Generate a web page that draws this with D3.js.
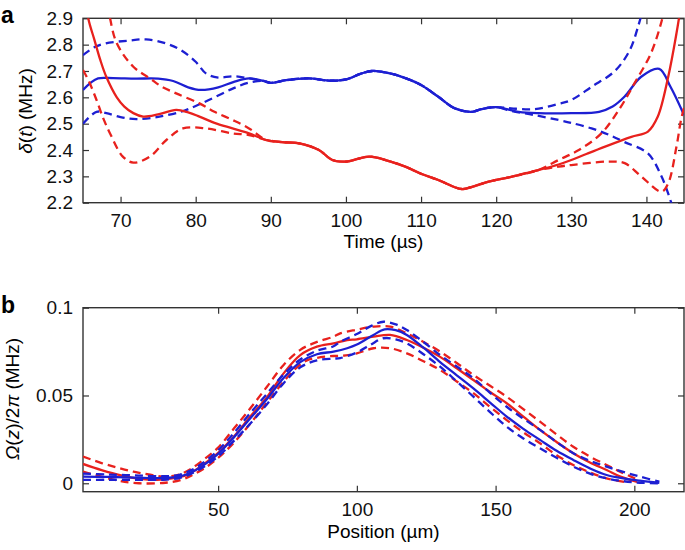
<!DOCTYPE html>
<html>
<head>
<meta charset="utf-8">
<script src="https://cdn.jsdelivr.net/npm/d3@7"></script>
<style>
body { margin: 0; background: #fff; }
svg { display: block; font-family: "Liberation Sans", Arial, Helvetica, sans-serif; }
.tick text { font-family: "Liberation Sans", Arial, Helvetica, sans-serif; font-size: 19px; fill: #111; }
.tick line { stroke: #333; stroke-width: 1.2; }
</style>
</head>
<body>
<svg width="685" height="550"></svg>
<script>
// panel a : detuning vs time
var blueMidA = [[89, 2.662], [90, 2.655], [92, 2.665], [95, 2.672], [98, 2.663], [100, 2.668], [102, 2.69], [103.5, 2.70], [106, 2.69], [108, 2.672], [110, 2.647], [112.3, 2.602], [114.5, 2.558], [116.8, 2.545], [118, 2.555], [120, 2.563]];
var blueSolidA = [[65, 2.628], [66, 2.655], [67, 2.672], [69, 2.673], [72, 2.671], [75, 2.671], [77, 2.662], [79, 2.638], [80.7, 2.628], [83, 2.638], [85, 2.658], [87.1, 2.672]]
    .concat(blueMidA, [[123, 2.545], [125.6, 2.54], [130, 2.54], [133.7, 2.545], [135.5, 2.565], [137.1, 2.603], [139.3, 2.678], [141.7, 2.708], [143.2, 2.64], [145, 2.533]]);
var blueUpperA = [[65, 2.76], [66.5, 2.79], [68, 2.805], [71, 2.815], [73.4, 2.82], [76, 2.805], [78, 2.78], [80, 2.735], [81.4, 2.69], [83, 2.675], [85, 2.68], [87.1, 2.672]]
    .concat(blueMidA, [[122, 2.558], [125, 2.555], [128.3, 2.575], [130, 2.59], [132.7, 2.64], [135.8, 2.70], [137.8, 2.78], [138.9, 2.87], [139.5, 2.93]]);
var blueLowerA = [[65, 2.50], [66.8, 2.545], [68.1, 2.54], [70, 2.525], [72.1, 2.517], [75, 2.526], [78, 2.545], [80, 2.567], [82.5, 2.60], [85, 2.634], [87, 2.655]]
    .concat(blueMidA, [[122, 2.548], [125, 2.533], [128.3, 2.514], [130, 2.503], [132.7, 2.482], [135, 2.458], [137.1, 2.43], [140.2, 2.387], [142, 2.30], [143.3, 2.20], [143.8, 2.15]]);

var redMidA = [[89.4, 2.438], [91.5, 2.43], [93.8, 2.425], [96.4, 2.40], [98.2, 2.362], [100, 2.356], [103.1, 2.375], [105.5, 2.36], [107.9, 2.337], [110, 2.31], [112.3, 2.286], [115.4, 2.252], [117, 2.262], [119, 2.28], [122.1, 2.299], [125.6, 2.324]];
var redSolidA = [[65.3, 3.0], [65.7, 2.9], [66.5, 2.82], [67.3, 2.742], [68.1, 2.678], [69.5, 2.60], [70.5, 2.565], [71.7, 2.54], [73, 2.527], [75, 2.535], [77.4, 2.552], [79, 2.543], [80.5, 2.527], [82.5, 2.503], [84.9, 2.482], [87.1, 2.463]]
    .concat(redMidA, [[128.3, 2.345], [130, 2.362], [132, 2.385], [134.5, 2.413], [138, 2.45], [140.2, 2.47], [141.5, 2.526], [142.9, 2.678], [144, 2.843], [144.6, 2.95]]);
var redUpperA = [[68.3, 2.95], [68.6, 2.9], [69.5, 2.805], [71.7, 2.716], [73.9, 2.672], [75.5, 2.64], [77.4, 2.615], [80.5, 2.577], [82.5, 2.545], [84.9, 2.514], [87.1, 2.482]]
    .concat(redMidA, [[128.3, 2.362], [131, 2.40], [134, 2.463], [136.5, 2.56], [138.4, 2.653], [140.6, 2.767], [142, 2.887], [142.5, 2.95]]);
var redLowerA = [[65, 2.704], [65.8, 2.66], [66.8, 2.59], [67.7, 2.52], [68.6, 2.463], [70.3, 2.375], [71.7, 2.352], [73.9, 2.375], [76.1, 2.438], [78.3, 2.482], [81.4, 2.482], [84.9, 2.463], [87.1, 2.457]]
    .concat(redMidA, [[128.3, 2.337], [130, 2.343], [134.9, 2.356], [137.1, 2.35], [139.3, 2.30], [142, 2.242], [142.9, 2.274], [144, 2.413], [144.6, 2.514], [145, 2.56]]);

var timeTicks = [70, 80, 90, 100, 110, 120, 130, 140];
var deltaTicks = [2.2, 2.3, 2.4, 2.5, 2.6, 2.7, 2.8, 2.9];

// panel b : Rabi frequency vs position
var redSolidB = [[1.3, 0.011], [8, 0.0075], [15, 0.0045], [22, 0.0025], [28, 0.002], [34, 0.003], [38.8, 0.0047], [43.6, 0.0095], [49.8, 0.017], [55.6, 0.0265], [61.6, 0.038], [67.6, 0.049], [73.6, 0.0626], [79.6, 0.073], [85.6, 0.0778], [91.6, 0.0797], [96.5, 0.0816], [100, 0.082], [106, 0.0835], [112, 0.0845], [118, 0.0816], [124, 0.0772], [130, 0.072], [136, 0.0655], [142, 0.0588], [148, 0.052], [154, 0.0456], [160, 0.038], [166, 0.0304], [172, 0.0235], [178, 0.0171], [184, 0.0118], [190, 0.0076], [195, 0.0038], [201, 0.0008]];
var redUpperB = [[1.3, 0.0152], [8, 0.0115], [14, 0.0088], [19.5, 0.0066], [25, 0.005], [31.3, 0.0038], [36, 0.005], [40, 0.008], [44, 0.0125], [49.8, 0.020], [55.6, 0.031], [61.6, 0.0427], [67.6, 0.055], [73.6, 0.0674], [79.6, 0.076], [85.6, 0.0805], [91.6, 0.0835], [94, 0.0854], [100, 0.0875], [106, 0.0892], [112, 0.0892], [118, 0.0854], [124, 0.0805], [130, 0.075], [136, 0.0685], [142, 0.0617], [148, 0.0555], [154, 0.0493], [160, 0.0422], [166, 0.0351], [172, 0.0278], [178, 0.0208], [184, 0.0152], [190, 0.0104], [195, 0.0065], [201, 0.0022]];
var redLowerB = [[1.3, 0.0066], [8, 0.0038], [14, 0.0015], [21.5, 0.0], [31, 0.0003], [37, 0.002], [41, 0.005], [45, 0.0085], [49.8, 0.0142], [55.6, 0.023], [61.6, 0.034], [67.6, 0.046], [73.6, 0.0579], [78, 0.0655], [82, 0.070], [87, 0.0718], [91.6, 0.0725], [96, 0.0728], [100, 0.074], [106, 0.0769], [112, 0.0769], [118, 0.074], [124, 0.0695], [130, 0.0645], [136, 0.058], [142, 0.0513], [148, 0.0435], [154, 0.036], [160, 0.029], [166, 0.0228], [172, 0.016], [178, 0.0104], [184, 0.0062], [190, 0.0028], [198, 0.0003]];
var blueSolidB = [[1.3, 0.0038], [10, 0.0036], [20, 0.0032], [30, 0.003], [36, 0.0038], [40, 0.006], [44, 0.0095], [49.8, 0.0165], [55.6, 0.026], [61.6, 0.037], [67.6, 0.048], [73.6, 0.060], [79.6, 0.069], [85.6, 0.0735], [91.6, 0.075], [96.5, 0.0769], [100, 0.079], [106, 0.0845], [110, 0.0877], [114, 0.0872], [118, 0.0845], [124, 0.0772], [130, 0.069], [136, 0.0615], [142, 0.054], [148, 0.046], [154, 0.038], [160, 0.031], [166, 0.0247], [172, 0.0185], [178, 0.0133], [184, 0.0085], [190, 0.0047], [196, 0.0028], [202, 0.0015], [209, 0.0003]];
var blueUpperB = [[1.3, 0.0055], [10, 0.005], [20, 0.0045], [30, 0.004], [36, 0.0048], [40, 0.0072], [44, 0.011], [49.8, 0.0185], [55.6, 0.0285], [61.6, 0.040], [67.6, 0.051], [73.6, 0.062], [79.6, 0.0705], [85.6, 0.0755], [91.6, 0.078], [94, 0.0806], [100, 0.085], [105, 0.0895], [109.6, 0.092], [114, 0.0905], [118, 0.0873], [124, 0.0805], [130, 0.073], [136, 0.0665], [142, 0.0598], [148, 0.0515], [154, 0.0436], [160, 0.0368], [166, 0.0304], [172, 0.0235], [178, 0.0171], [184, 0.0128], [190, 0.0095], [196, 0.0065], [202, 0.0038], [209, 0.0009]];
var blueLowerB = [[1.3, 0.0019], [10, 0.002], [20, 0.002], [30, 0.002], [36, 0.003], [40, 0.0052], [44, 0.0085], [49.8, 0.015], [55.6, 0.024], [61.6, 0.034], [67.6, 0.045], [73.6, 0.057], [79.6, 0.066], [85.6, 0.070], [91.6, 0.071], [94, 0.0713], [100, 0.0745], [105, 0.079], [109.6, 0.0826], [114, 0.082], [118, 0.0797], [124, 0.0735], [130, 0.0664], [136, 0.058], [142, 0.0493], [148, 0.0405], [154, 0.0322], [160, 0.0255], [166, 0.0199], [172, 0.0145], [178, 0.0095], [184, 0.0055], [190, 0.0028], [196, 0.0012], [202, 0.0003], [209, 0.0]];

var posTicks = [50, 100, 150, 200];
var omegaTicks = [0, 0.05, 0.1];

var RED = "#e8211d";
var BLUE = "#1d1fd2";

var svg = d3.select("svg");

function panel(id, box, xDomain, yDomain, xTicks, yTicks, yFormat) {
    var x = d3.scaleLinear().domain(xDomain).range([box.left, box.right]);
    var y = d3.scaleLinear().domain(yDomain).range([box.bottom, box.top]);

    svg.append("clipPath").attr("id", id)
        .append("rect")
        .attr("x", box.left).attr("y", box.top)
        .attr("width", box.right - box.left).attr("height", box.bottom - box.top);

    var g = svg.append("g");

    // mirrored inward ticks on all four sides
    g.append("g").attr("transform", "translate(0," + box.bottom + ")")
        .call(d3.axisBottom(x).tickValues(xTicks).tickSizeInner(-6).tickSizeOuter(0).tickPadding(11).tickFormat(d3.format("d")));
    g.append("g").attr("transform", "translate(0," + box.top + ")")
        .call(d3.axisTop(x).tickValues(xTicks).tickSizeInner(-6).tickSizeOuter(0).tickFormat(""));
    g.append("g").attr("transform", "translate(" + box.left + ",0)")
        .call(d3.axisLeft(y).tickValues(yTicks).tickSizeInner(-6).tickSizeOuter(0).tickPadding(10).tickFormat(yFormat));
    g.append("g").attr("transform", "translate(" + box.right + ",0)")
        .call(d3.axisRight(y).tickValues(yTicks).tickSizeInner(-6).tickSizeOuter(0).tickFormat(""));
    g.selectAll(".domain").remove();

    var lines = svg.append("g").attr("clip-path", "url(#" + id + ")");

    g.append("rect")
        .attr("x", box.left).attr("y", box.top)
        .attr("width", box.right - box.left).attr("height", box.bottom - box.top)
        .attr("fill", "none").attr("stroke", "#333").attr("stroke-width", 1.4);

    var line = d3.line()
        .x(function (d) { return x(d[0]); })
        .y(function (d) { return y(d[1]); })
        .curve(d3.curveCatmullRom.alpha(0.5));

    return function (data, color, dashed) {
        lines.append("path")
            .attr("d", line(data))
            .attr("fill", "none")
            .attr("stroke", color)
            .attr("stroke-width", 2.3)
            .attr("stroke-dasharray", dashed ? "8,5" : null);
    };
}

var drawA = panel("clipA", {left: 83, right: 684, top: 18.3, bottom: 202.7},
    [65, 145], [2.2, 2.9], timeTicks, deltaTicks, d3.format(".1f"));
drawA(blueUpperA, BLUE, true);
drawA(blueLowerA, BLUE, true);
drawA(blueSolidA, BLUE, false);
drawA(redUpperA, RED, true);
drawA(redLowerA, RED, true);
drawA(redSolidA, RED, false);

var drawB = panel("clipB", {left: 83, right: 684, top: 307.7, bottom: 491.7},
    [1.3, 217.9], [-0.0048, 0.1], posTicks, omegaTicks, function (d) { return d === 0 ? "0" : String(d); });
drawB(redUpperB, RED, true);
drawB(redLowerB, RED, true);
drawB(redSolidB, RED, false);
drawB(blueUpperB, BLUE, true);
drawB(blueLowerB, BLUE, true);
drawB(blueSolidB, BLUE, false);

// panel letters
svg.append("text").attr("x", 1).attr("y", 23)
    .style("font-size", "23px").style("font-weight", "bold").text("a");
svg.append("text").attr("x", 1).attr("y", 313)
    .style("font-size", "23px").style("font-weight", "bold").text("b");

// axis titles
svg.append("text").attr("x", 383.5).attr("y", 248)
    .attr("text-anchor", "middle").style("font-size", "19px").text("Time (µs)");
svg.append("text").attr("x", 383.5).attr("y", 538)
    .attr("text-anchor", "middle").style("font-size", "19px").text("Position (µm)");

var ya = svg.append("text")
    .attr("transform", "translate(32,111) rotate(-90)")
    .attr("text-anchor", "middle").style("font-size", "19px");
ya.append("tspan").style("font-style", "italic").text("δ");
ya.append("tspan").text("(");
ya.append("tspan").style("font-style", "italic").text("t");
ya.append("tspan").text(") (MHz)");

var yb = svg.append("text")
    .attr("transform", "translate(19,399) rotate(-90)")
    .attr("text-anchor", "middle").style("font-size", "19px");
yb.append("tspan").style("font-style", "italic").text("Ω");
yb.append("tspan").text("(");
yb.append("tspan").style("font-style", "italic").text("z");
yb.append("tspan").text(")/2");
yb.append("tspan").style("font-style", "italic").text("π");
yb.append("tspan").text(" (MHz)");
</script>
</body>
</html>
